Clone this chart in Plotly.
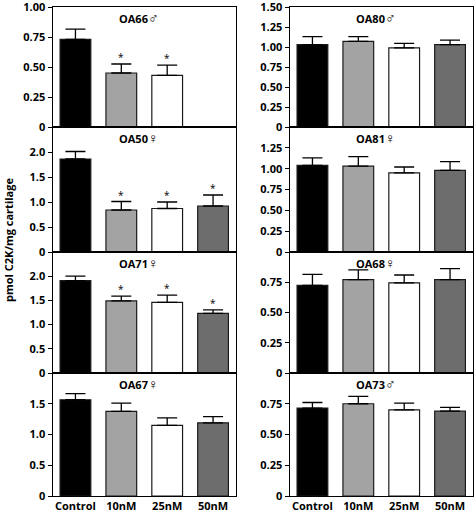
import plotly.graph_objects as go

categories = ["Control", "10nM", "25nM", "50nM"]
bar_colors = ["#000000", "#a3a3a3", "#ffffff", "#6d6d6d"]

# panel names / sex symbols
oa66_name, oa66_sex = "OA66", "♂"
oa80_name, oa80_sex = "OA80", "♂"
oa50_name, oa50_sex = "OA50", "♀"
oa81_name, oa81_sex = "OA81", "♀"
oa71_name, oa71_sex = "OA71", "♀"
oa68_name, oa68_sex = "OA68", "♀"
oa67_name, oa67_sex = "OA67", "♀"
oa73_name, oa73_sex = "OA73", "♂"

# means and SEM (pmol C2K/mg cartilage)
oa66_mean = [0.73, 0.45, 0.43, None]
oa66_err = [0.085, 0.075, 0.085, None]
oa66_sig = [0, 1, 1, 0]

oa80_mean = [1.03, 1.07, 0.99, 1.03]
oa80_err = [0.10, 0.06, 0.055, 0.055]
oa80_sig = [0, 0, 0, 0]

oa50_mean = [1.86, 0.84, 0.87, 0.92]
oa50_err = [0.15, 0.17, 0.13, 0.22]
oa50_sig = [0, 1, 1, 1]

oa81_mean = [1.04, 1.03, 0.95, 0.98]
oa81_err = [0.09, 0.115, 0.07, 0.105]
oa81_sig = [0, 0, 0, 0]

oa71_mean = [1.91, 1.49, 1.46, 1.23]
oa71_err = [0.09, 0.10, 0.15, 0.075]
oa71_sig = [0, 1, 1, 1]

oa68_mean = [0.725, 0.772, 0.745, 0.772]
oa68_err = [0.09, 0.08, 0.065, 0.09]
oa68_sig = [0, 0, 0, 0]

oa67_mean = [1.565, 1.375, 1.15, 1.19]
oa67_err = [0.10, 0.135, 0.12, 0.10]
oa67_sig = [0, 0, 0, 0]

oa73_mean = [0.715, 0.75, 0.70, 0.69]
oa73_err = [0.045, 0.06, 0.055, 0.03]
oa73_sig = [0, 0, 0, 0]

# y-axis maxima and tick steps
oa66_ymax, oa66_step = 1.0, 0.25
oa80_ymax, oa80_step = 1.5, 0.25
oa50_ymax, oa50_step = 2.5, 0.5
oa81_ymax, oa81_step = 1.5, 0.25
oa71_ymax, oa71_step = 2.5, 0.5
oa68_ymax, oa68_step = 1.0, 0.25
oa67_ymax, oa67_step = 2.0, 0.5
oa73_ymax, oa73_step = 1.0, 0.25

panels = [
    (oa66_name, oa66_sex, oa66_mean, oa66_err, oa66_sig, oa66_ymax, oa66_step),
    (oa80_name, oa80_sex, oa80_mean, oa80_err, oa80_sig, oa80_ymax, oa80_step),
    (oa50_name, oa50_sex, oa50_mean, oa50_err, oa50_sig, oa50_ymax, oa50_step),
    (oa81_name, oa81_sex, oa81_mean, oa81_err, oa81_sig, oa81_ymax, oa81_step),
    (oa71_name, oa71_sex, oa71_mean, oa71_err, oa71_sig, oa71_ymax, oa71_step),
    (oa68_name, oa68_sex, oa68_mean, oa68_err, oa68_sig, oa68_ymax, oa68_step),
    (oa67_name, oa67_sex, oa67_mean, oa67_err, oa67_sig, oa67_ymax, oa67_step),
    (oa73_name, oa73_sex, oa73_mean, oa73_err, oa73_sig, oa73_ymax, oa73_step),
]

W, H = 475, 512
col_px = [(52.5, 236.0), (289.5, 473.0)]
row_px = [(7, 127), (127, 252), (252, 373), (373, 496)]

FONT = "Open Sans"
fig = go.Figure()
layout = dict(
    width=W, height=H, autosize=False, margin=dict(l=0, r=0, t=0, b=0, pad=0),
    paper_bgcolor="white", plot_bgcolor="white", showlegend=False,
    bargap=0.33, annotations=[],
)


def fmt(v, step):
    if v == 0:
        return "0"
    return f"{v:.2f}" if step == 0.25 else f"{v:.1f}"


for i, (name, sex, mean, err, sig, ymax, step) in enumerate(panels):
    r, c = divmod(i, 2)
    k = i + 1
    xs = "" if k == 1 else str(k)
    x0, x1 = col_px[c]
    t, b = row_px[r]
    fig.add_trace(go.Bar(
        x=categories, y=mean, xaxis="x" + xs, yaxis="y" + xs,
        marker=dict(color=bar_colors, line=dict(color="#1a1a1a", width=1.2)),
        error_y=dict(type="data", array=err, symmetric=False,
                     arrayminus=[0] * 4, color="black", thickness=1.3, width=10),
        hoverinfo="skip",
    ))
    n = int(round(ymax / step))
    vals = [j * step for j in range(n + 1)]
    if r > 0:
        vals = vals[:-1]
    layout["xaxis" + xs] = dict(
        domain=[x0 / W, x1 / W], anchor="y" + xs, automargin=False,
        range=[-0.5, 3.5], showline=True, mirror=True, linecolor="black",
        linewidth=1, ticks="", showticklabels=(r == 3), showgrid=False,
        tickfont=dict(family=FONT, size=11, color="black", weight="bold"),
        ticklabeloverflow="allow", fixedrange=True,
    )
    layout["yaxis" + xs] = dict(
        domain=[1 - b / H, 1 - t / H], anchor="x" + xs, automargin=False,
        range=[0, ymax], showline=True, mirror=True, linecolor="black",
        linewidth=1, ticks="outside", ticklen=4, tickcolor="black",
        tickvals=vals, ticktext=[fmt(v, step) for v in vals],
        showgrid=False, zeroline=False,
        tickfont=dict(family=FONT, size=11, color="black", weight="bold"),
        ticklabeloverflow="allow", fixedrange=True,
    )
    layout["annotations"].append(dict(
        xref=f"x{xs} domain", yref=f"y{xs} domain", x=0.47, y=1,
        yshift=-10, yanchor="middle", xanchor="center", showarrow=False,
        text=f"<b>{name}</b><span style='font-size:14px;font-weight:normal'>{sex}</span>",
        font=dict(family=FONT, size=11, color="black"),
    ))
    for j, s in enumerate(sig):
        if s and mean[j] is not None:
            layout["annotations"].append(dict(
                xref="x" + xs, yref="y" + xs, x=categories[j],
                y=mean[j] + err[j], yanchor="bottom", yshift=-2,
                showarrow=False, text="*",
                font=dict(family=FONT, size=10, color="black"),
            ))

layout["annotations"].append(dict(
    xref="paper", yref="paper", x=8 / W, y=1 - 240 / H,
    xanchor="center", yanchor="middle", textangle=-90, showarrow=False,
    text="<b>pmol C2K/mg cartilage</b>",
    font=dict(family=FONT, size=11, color="black"),
))

fig.update_layout(**layout)
fig.write_html(
    "out.html",
    config={"displayModeBar": False, "responsive": False},
    post_script="document.body.style.margin='0px';document.body.style.overflow='hidden';",
)
